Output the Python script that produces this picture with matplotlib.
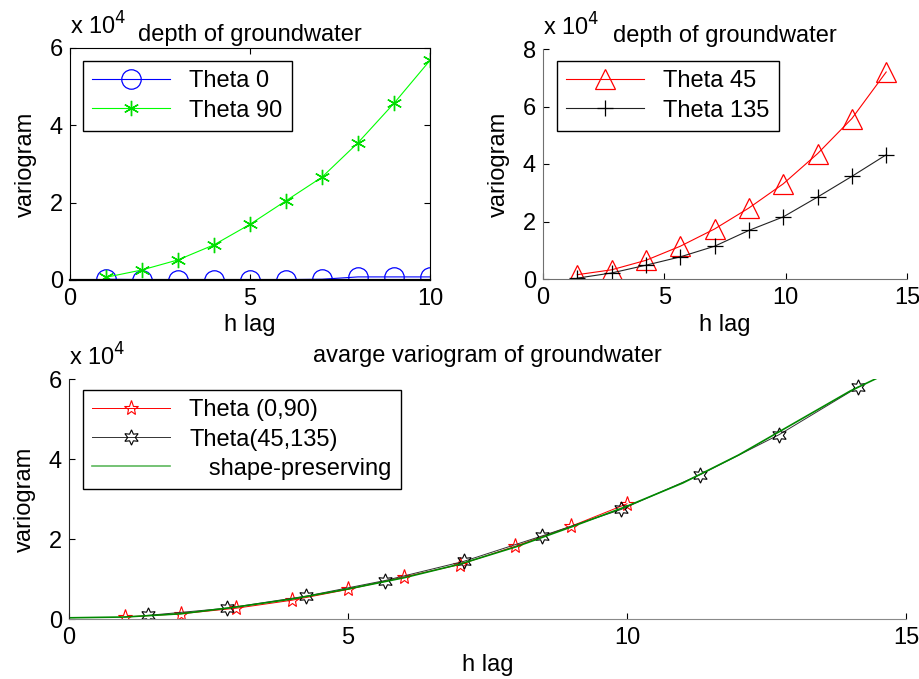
import matplotlib
matplotlib.use("Agg")
import matplotlib.pyplot as plt
import numpy as np
from matplotlib.ticker import FuncFormatter

plt.rcParams["font.family"] = ["Liberation Sans", "DejaVu Sans"]
plt.rcParams["font.size"] = 17
FS = 17

# ---- data (variogram values) ----
lag_axis = [1, 2, 3, 4, 5, 6, 7, 8, 9, 10]
theta0 = [200, 100, 100, 100, 100, 100, 200, 800, 800, 800]
theta90 = [700, 2600, 5200, 9100, 14400, 20500, 26600, 35500, 45700, 56800]

lag_diag = [1.414, 2.828, 4.243, 5.657, 7.071, 8.485, 9.899, 11.314, 12.728, 14.142]
theta45 = [1500, 3200, 6500, 11400, 17400, 24700, 33100, 43600, 55800, 72000]
theta135 = [300, 2100, 4800, 7700, 11400, 16900, 21600, 28500, 35700, 43200]

avg_0_90 = [500, 1300, 2700, 4700, 7400, 10500, 13600, 18200, 23200, 28800]
avg_45_135 = [900, 2700, 5700, 9600, 14400, 20800, 27400, 36100, 46100, 58000]

fit_x = [0, 1, 2, 3, 4, 5, 6, 7, 8, 9, 10, 11, 12, 13, 14, 14.6]
fit_y = [300, 500, 1300, 3000, 5000, 7500, 10300, 13700, 18000, 23000, 28200,
         34000, 41000, 49000, 57000, 61000]

W, H = 919, 679
fig = plt.figure(figsize=(W / 100, H / 100), dpi=100)

sci = FuncFormatter(lambda v, p: f"{v / 1e4:g}")


def style(ax, box, spine_col):
    for s in ("top", "right"):
        ax.spines[s].set_visible(box)
    for s in ("left", "bottom"):
        ax.spines[s].set_color(spine_col)
    ax.tick_params(direction="in", length=4, width=0.8, labelsize=FS,
                   top=box, right=box)
    ax.tick_params(axis="x", pad=6)
    ax.tick_params(axis="y", pad=5)
    ax.yaxis.set_major_formatter(sci)
    ax.set_xlabel("h lag", fontsize=FS, labelpad=3)
    ax.set_ylabel("variogram", fontsize=FS, labelpad=9)
    ax.text(0.0, 1.035, "x 10$^{4}$", transform=ax.transAxes, fontsize=FS,
            ha="left", va="bottom")


def leg(ax, x0, y0):
    # legend anchored at the pixel position of its top-left corner
    l = ax.legend(loc="upper left", bbox_to_anchor=(x0 / W, 1 - y0 / H),
                  bbox_transform=fig.transFigure, fontsize=FS, frameon=True,
                  fancybox=False, edgecolor="black", framealpha=1,
                  handlelength=3.3, handletextpad=0.8, borderpad=0.4,
                  labelspacing=0.3, borderaxespad=0)
    l.get_frame().set_linewidth(1.0)
    return l


# ---- panel 1 ----
ax1 = fig.add_axes([70 / W, 1 - 280 / H, 360 / W, 232 / H])
ax1.plot(lag_axis, theta0, color="#0000ff", lw=0.8, marker="o", ms=14,
         mfc="none", mec="#0000ff", mew=0.9, label="Theta 0")
ax1.plot(lag_axis, theta90, color="#00ff00", lw=0.8, marker=(6, 2, 0), ms=11,
         mec="#00dd00", mew=1.0, label="Theta 90")
ax1.set_xlim(0, 10)
ax1.set_ylim(0, 60000)
ax1.set_xticks([0, 5, 10])
ax1.set_yticks([0, 20000, 40000, 60000])
style(ax1, True, "black")
ax1.spines["bottom"].set_linewidth(1.6)
ax1.set_title("depth of groundwater", fontsize=FS, pad=5)
leg(ax1, 83, 61)

# ---- panel 2 ----
ax2 = fig.add_axes([543 / W, 1 - 279 / H, 364 / W, 230 / H])
ax2.plot(lag_diag, theta45, color="#ff0000", lw=0.8, marker="^", ms=14,
         mfc="none", mec="#ff0000", mew=0.9, label="Theta 45")
ax2.plot(lag_diag, theta135, color="#222222", lw=0.8, marker="+", ms=12,
         mec="black", mew=0.9, label="Theta 135")
ax2.set_xlim(0, 15)
ax2.set_ylim(0, 80000)
ax2.set_xticks([0, 5, 10, 15])
ax2.set_yticks([0, 20000, 40000, 60000, 80000])
style(ax2, False, "#707070")
ax2.set_title("depth of groundwater", fontsize=FS, pad=5)
leg(ax2, 557, 61)

# ---- panel 3 ----
ax3 = fig.add_axes([69 / W, 1 - 619 / H, 837 / W, 240 / H])
ax3.plot(lag_axis, avg_0_90, color="#ff0000", lw=0.7, marker="*", ms=11,
         mfc="none", mec="#ff0000", mew=0.8, label="Theta (0,90)")
ax3.plot(lag_diag, avg_45_135, color="#333333", lw=0.7, marker=(6, 1, 0),
         ms=11, mfc="none", mec="black", mew=0.8, label="Theta(45,135)")
ax3.plot(fit_x, fit_y, color="#008a00", lw=1.2, label="   shape-preserving")
ax3.set_xlim(0, 15)
ax3.set_ylim(0, 60000)
ax3.set_xticks([0, 5, 10, 15])
ax3.set_yticks([0, 20000, 40000, 60000])
style(ax3, False, "#222222")
ax3.spines["bottom"].set_color("#8a8a8a")
ax3.set_title("avarge variogram of groundwater", fontsize=FS, pad=12)
l3 = leg(ax3, 83, 390)
l3.get_lines()[2].set_color("#5cb85c")

fig.savefig("out.png", dpi=100)
